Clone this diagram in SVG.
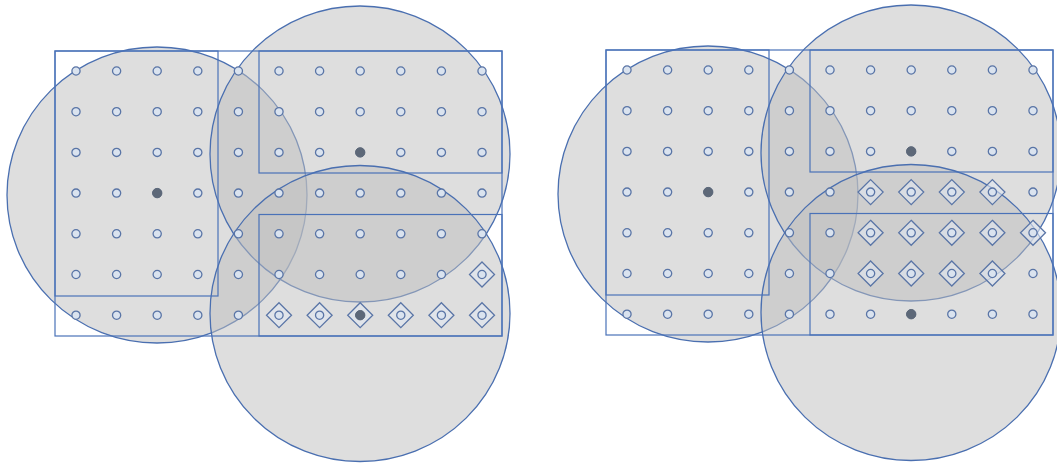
<svg xmlns="http://www.w3.org/2000/svg" xmlns:xlink="http://www.w3.org/1999/xlink" width="1057" height="464" viewBox="0 0 1057 464">
<style>
.zone{fill:#bdbdbd;fill-opacity:0.5;stroke:#4a6fb0;stroke-width:1.3}
.box{fill:none;stroke:#4a72b8;stroke-width:1.2}
.pt{fill:#dae3ef;stroke:#5a75a6;stroke-width:1.3}
.ctr{fill:#5d6878;stroke:#5d6878;stroke-width:1}
.dia{fill:#e1e8f2;fill-opacity:0.6;stroke:#5a75a6;stroke-width:1.3}
</style>
<defs>
<circle id="p" r="4.1" class="pt"/>
<circle id="c" r="4.7" class="ctr"/>
<polygon id="d" points="0,-12.5 12.5,0 0,12.5 -12.5,0" class="dia"/>
<g id="grid">
<g id="r0"><use xlink:href="#p" x="76"/><use xlink:href="#p" x="116.6"/><use xlink:href="#p" x="157.2"/><use xlink:href="#p" x="197.8"/><use xlink:href="#p" x="238.4"/><use xlink:href="#p" x="279"/><use xlink:href="#p" x="319.6"/><use xlink:href="#p" x="360.2"/><use xlink:href="#p" x="400.8"/><use xlink:href="#p" x="441.4"/><use xlink:href="#p" x="482"/></g>
</g>
</defs>

<g id="panel-a">
<g id="a-zone-left"><ellipse class="zone" cx="157" cy="195" rx="150" ry="148"/></g>
<g id="a-zone-top"><ellipse class="zone" cx="360" cy="154" rx="150" ry="148"/></g>
<g id="a-zone-bottom"><ellipse class="zone" cx="360" cy="313.5" rx="150" ry="148"/></g>
<g id="a-boxes">
<rect class="box" x="55" y="51" width="447" height="285"/>
<rect class="box" x="55" y="51" width="163" height="245"/>
<rect class="box" x="259" y="51" width="243" height="122"/>
<rect class="box" x="259" y="214.5" width="243" height="121.5"/>
</g>
<g id="a-diamonds">
<use xlink:href="#d" x="482" y="274.5"/>
<use xlink:href="#d" x="279" y="315.2"/><use xlink:href="#d" x="319.6" y="315.2"/><use xlink:href="#d" x="360.2" y="315.2"/><use xlink:href="#d" x="400.8" y="315.2"/><use xlink:href="#d" x="441.4" y="315.2"/><use xlink:href="#d" x="482" y="315.2"/>
</g>
<g id="a-points">
<use xlink:href="#r0" y="71"/><use xlink:href="#r0" y="111.7"/><use xlink:href="#r0" y="152.4"/><use xlink:href="#r0" y="193.1"/><use xlink:href="#r0" y="233.8"/><use xlink:href="#r0" y="274.5"/><use xlink:href="#r0" y="315.2"/>
</g>
<g id="a-centres">
<use xlink:href="#c" x="157.2" y="193.1"/><use xlink:href="#c" x="360.2" y="152.4"/><use xlink:href="#c" x="360.2" y="315.2"/>
</g>
</g>

<g id="panel-b" transform="translate(551,-1)">
<g id="b-zone-left"><ellipse class="zone" cx="157" cy="195" rx="150" ry="148"/></g>
<g id="b-zone-top"><ellipse class="zone" cx="360" cy="154" rx="150" ry="148"/></g>
<g id="b-zone-bottom"><ellipse class="zone" cx="360" cy="313.5" rx="150" ry="148"/></g>
<g id="b-boxes">
<rect class="box" x="55" y="51" width="447" height="285"/>
<rect class="box" x="55" y="51" width="163" height="245"/>
<rect class="box" x="259" y="51" width="243" height="122"/>
<rect class="box" x="259" y="214.5" width="243" height="121.5"/>
</g>
<g id="b-diamonds">
<use xlink:href="#d" x="319.6" y="193.1"/><use xlink:href="#d" x="360.2" y="193.1"/><use xlink:href="#d" x="400.8" y="193.1"/><use xlink:href="#d" x="441.4" y="193.1"/>
<use xlink:href="#d" x="319.6" y="233.8"/><use xlink:href="#d" x="360.2" y="233.8"/><use xlink:href="#d" x="400.8" y="233.8"/><use xlink:href="#d" x="441.4" y="233.8"/><use xlink:href="#d" x="482" y="233.8"/>
<use xlink:href="#d" x="319.6" y="274.5"/><use xlink:href="#d" x="360.2" y="274.5"/><use xlink:href="#d" x="400.8" y="274.5"/><use xlink:href="#d" x="441.4" y="274.5"/>
</g>
<g id="b-points">
<use xlink:href="#r0" y="71"/><use xlink:href="#r0" y="111.7"/><use xlink:href="#r0" y="152.4"/><use xlink:href="#r0" y="193.1"/><use xlink:href="#r0" y="233.8"/><use xlink:href="#r0" y="274.5"/><use xlink:href="#r0" y="315.2"/>
</g>
<g id="b-centres">
<use xlink:href="#c" x="157.2" y="193.1"/><use xlink:href="#c" x="360.2" y="152.4"/><use xlink:href="#c" x="360.2" y="315.2"/>
</g>
</g>
</svg>
